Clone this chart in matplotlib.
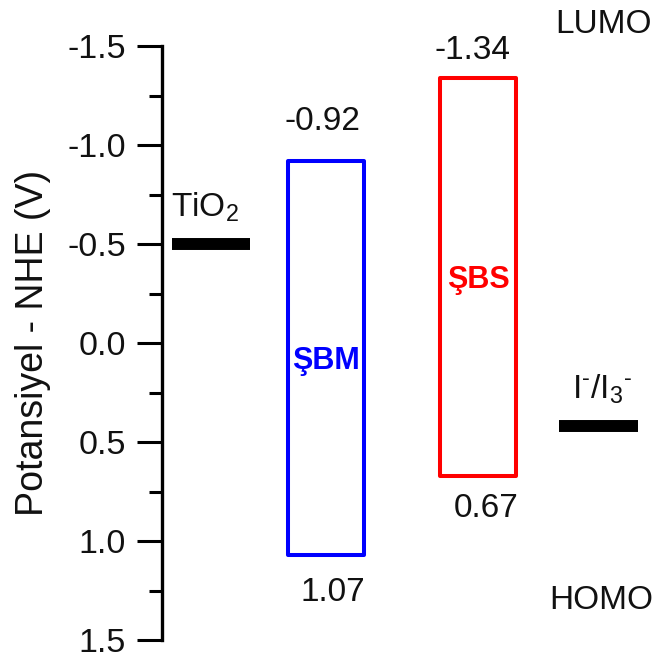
import matplotlib
matplotlib.use("Agg")
import matplotlib.pyplot as plt
from matplotlib.patches import Rectangle
from matplotlib.ticker import MultipleLocator

plt.rcParams['font.family'] = ['Liberation Sans', 'DejaVu Sans']
plt.rcParams['mathtext.fontset'] = 'custom'
plt.rcParams['mathtext.rm'] = 'Liberation Sans'
plt.rcParams['mathtext.it'] = 'Liberation Sans:italic'
plt.rcParams['mathtext.bf'] = 'Liberation Sans:bold'

# ---- data ----
dyes = ['ŞBM', 'ŞBS']
lumo = [-0.92, -1.34]
homo = [1.07, 0.67]
dye_colors = ['#0000FF', '#FF0000']
levels = ['TiO$_2$', 'I$^{\u2010}$/I$_3$$^{\u2010}$']
level_values = [-0.5, 0.42]
yticks = [-1.5, -1.0, -0.5, 0.0, 0.5, 1.0, 1.5]

# ---- layout (pixel-like x units from spine) ----
dye_x = [126, 278]           # left edges
dye_w = 76
level_x = [10, 397]          # left edges
level_w = [78, 79]
dye_name_y = [0.09, -0.32]
lumo_lab_dy = [-0.20, -0.135]
homo_lab_dy = [0.19, 0.165]
lumo_lab_dx = [-4, -6]
homo_lab_dx = [7, 8]
level_lab_dx = [-6, 4]

fig = plt.figure(figsize=(6.57, 6.57), dpi=100)
ax = fig.add_axes([162/657, 17/657, 495/657, (640-46)/657])
ax.set_xlim(0, 495)
ax.set_ylim(1.5, -1.5)

for s in ['top', 'right', 'bottom']:
    ax.spines[s].set_visible(False)
ax.spines['left'].set_linewidth(2.4)
ax.set_xticks([])
ax.set_yticks(yticks)
ax.set_yticklabels([f'{v:.1f}' for v in yticks])
ax.yaxis.set_minor_locator(MultipleLocator(0.25))
ax.tick_params(axis='y', which='major', length=18, width=2.2, pad=8,
               labelsize=24.5, colors='black', labelcolor='#111111')
ax.tick_params(axis='y', which='minor', length=9.5, width=2.2)
ax.set_ylabel('Potansiyel - NHE (V)', fontsize=27, color='#111111')
ax.yaxis.set_label_coords(-0.225, 0.5)

# dye boxes
for i, name in enumerate(dyes):
    x0 = dye_x[i]
    rect = Rectangle((x0, lumo[i]), dye_w, homo[i] - lumo[i], fill=False,
                     edgecolor=dye_colors[i], linewidth=2.9, joinstyle='round')
    ax.add_patch(rect)
    cx = x0 + dye_w / 2
    ax.text(cx, dye_name_y[i], name, color=dye_colors[i], fontsize=22,
            fontweight='bold', ha='center', va='center')
    ax.text(cx + lumo_lab_dx[i], lumo[i] + lumo_lab_dy[i], f'{lumo[i]:.2f}',
            fontsize=24, ha='center', va='center', color='#111111')
    ax.text(cx + homo_lab_dx[i], homo[i] + homo_lab_dy[i], f'{homo[i]:.2f}',
            fontsize=24, ha='center', va='center', color='#111111')

# reference levels
for i, lab in enumerate(levels):
    x0 = level_x[i]
    ax.plot([x0, x0 + level_w[i]], [level_values[i], level_values[i]],
            color='black', linewidth=8.6, solid_capstyle='butt')
    ax.text(x0 + level_w[i] / 2 + level_lab_dx[i], level_values[i] - 0.1, lab,
            fontsize=24, ha='center', va='bottom', color='#111111')

ax.text(442, -1.607, 'LUMO', fontsize=24, ha='center', va='center',
        color='#111111', clip_on=False)
ax.text(439, 1.30, 'HOMO', fontsize=24, ha='center', va='center',
        color='#111111', clip_on=False)

fig.savefig('out.png', dpi=100)
